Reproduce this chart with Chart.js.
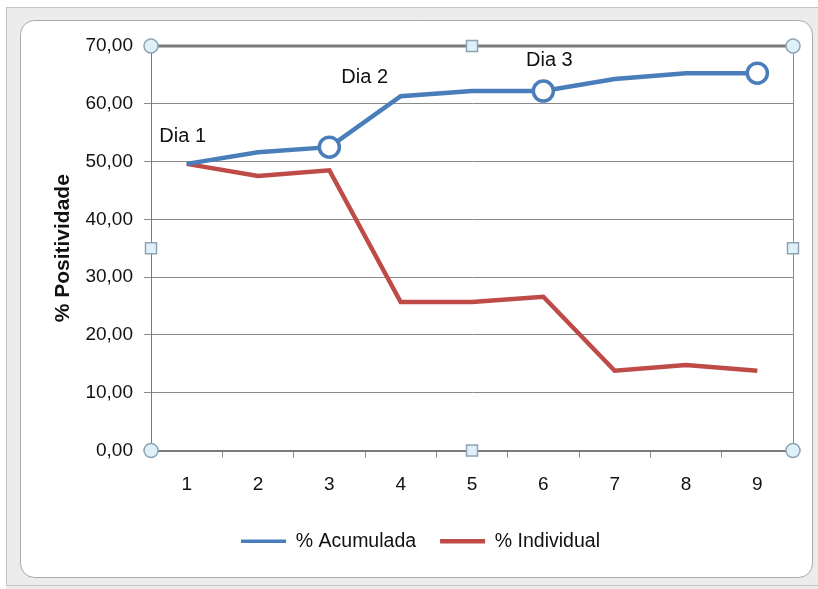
<!DOCTYPE html>
<html>
<head>
<meta charset="utf-8">
<script src="https://cdn.jsdelivr.net/npm/chart.js@4/dist/chart.umd.min.js"></script>
<style>
html,body{margin:0;padding:0;background:#fff;}
#wrap{position:absolute;left:0;top:0;width:818px;height:589px;}
</style>
</head>
<body>
<div id="wrap"><canvas id="c" width="818" height="589"></canvas></div>
<script>
const categories = ['1','2','3','4','5','6','7','8','9'];
const acumulada = [49.6, 51.6, 52.5, 61.3, 62.2, 62.2, 64.3, 65.3, 65.3];
const individual = [49.6, 47.5, 48.5, 25.7, 25.7, 26.6, 13.8, 14.8, 13.8];
const markerIndexes = [2, 5, 8];
const dayLabels = ['Dia 1', 'Dia 2', 'Dia 3'];
const yTicks = [0, 10, 20, 30, 40, 50, 60, 70];

const FONT = "'Liberation Sans', Arial, sans-serif";
const BLUE = '#4a7ebb';
const RED = '#be4b48';

const framePlugin = {
  id: 'frame',
  beforeDraw(chart) {
    const ctx = chart.ctx;
    ctx.save();
    ctx.fillStyle = '#ffffff';
    ctx.fillRect(0, 0, chart.width, chart.height);
    ctx.fillStyle = '#ececec';
    ctx.fillRect(6, 7, 812, 582);
    ctx.strokeStyle = '#c4c4c4';
    ctx.lineWidth = 1;
    ctx.strokeRect(6.5, 7.5, 830, 578);
    ctx.beginPath();
    ctx.roundRect(20.5, 20.5, 792, 557, 14);
    ctx.fillStyle = '#ffffff';
    ctx.fill();
    ctx.strokeStyle = '#a8a8a8';
    ctx.stroke();
    ctx.restore();
  },
  afterDraw(chart) {
    const ctx = chart.ctx;
    const a = chart.chartArea;
    ctx.save();
    ctx.strokeStyle = '#7a7a7a';
    ctx.lineWidth = 3;
    ctx.beginPath();
    ctx.moveTo(a.left, a.top); ctx.lineTo(a.right, a.top);
    ctx.stroke();
    ctx.lineWidth = 1;
    ctx.strokeStyle = '#8a8a8a';
    ctx.beginPath();
    ctx.moveTo(a.right + 0.5, a.top); ctx.lineTo(a.right + 0.5, a.bottom);
    ctx.stroke();
    const cx = (a.left + a.right) / 2, cy = (a.top + a.bottom) / 2;
    ctx.fillStyle = '#dff0f8';
    ctx.strokeStyle = '#8ea4b4';
    ctx.lineWidth = 1.5;
    [[a.left, a.top], [a.right, a.top], [a.left, a.bottom], [a.right, a.bottom]].forEach(([x, y]) => {
      ctx.beginPath(); ctx.arc(x, y, 7, 0, Math.PI * 2); ctx.fill(); ctx.stroke();
    });
    [[cx, a.top], [cx, a.bottom], [a.left, cy], [a.right, cy]].forEach(([x, y]) => {
      ctx.beginPath(); ctx.rect(x - 5.5, y - 5.5, 11, 11); ctx.fill(); ctx.stroke();
    });
    ctx.restore();
  }
};

const labelPlugin = {
  id: 'dayLabels',
  afterDatasetsDraw(chart, args, opts) {
    const ctx = chart.ctx;
    const meta = chart.getDatasetMeta(0);
    ctx.save();
    ctx.font = '20px ' + FONT;
    ctx.fillStyle = '#111';
    ctx.textAlign = 'center';
    ctx.textBaseline = 'middle';
    opts.anchors.forEach((an, i) => {
      const p = meta.data[an.index];
      ctx.fillText(dayLabels[i], p.x + an.dx, p.y + an.dy);
    });
    ctx.restore();
  }
};

new Chart(document.getElementById('c'), {
  type: 'line',
  data: {
    labels: categories,
    datasets: [
      {
        label: '% Acumulada',
        data: acumulada,
        borderColor: BLUE,
        backgroundColor: BLUE,
        borderWidth: 4.5,
        pointRadius: ctx => markerIndexes.includes(ctx.dataIndex) ? 10 : 0,
        pointBackgroundColor: '#ffffff',
        pointBorderColor: BLUE,
        pointBorderWidth: 3.5,
        tension: 0
      },
      {
        label: '% Individual',
        data: individual,
        borderColor: RED,
        backgroundColor: RED,
        borderWidth: 4.5,
        pointRadius: 0,
        tension: 0
      }
    ]
  },
  options: {
    responsive: false,
    animation: false,
    layout: { padding: { left: 48, right: 25, top: 46, bottom: 28 } },
    plugins: {
      legend: {
        position: 'bottom',
        labels: {
          usePointStyle: true,
          pointStyle: 'line',
          pointStyleWidth: 45,
          padding: 24,
          color: '#111',
          font: { family: FONT, size: 19.5 }
        }
      },
      tooltip: { enabled: false },
      dayLabels: {
        anchors: [
          { index: 0, dx: -4, dy: -27 },
          { index: 3, dx: -36, dy: -19 },
          { index: 5, dx: 6, dy: -31 }
        ]
      }
    },
    scales: {
      x: {
        offset: true,
        grid: { offset: true, drawOnChartArea: false, drawTicks: true, tickLength: 7, color: '#8a8a8a' },
        border: { display: true, color: '#7a7a7a', width: 2 },
        ticks: { color: '#111', font: { family: FONT, size: 19 }, padding: 16 },
        afterFit(scale) { scale.height = 57; }
      },
      y: {
        min: 0, max: 70,
        afterBuildTicks(scale) { scale.ticks = yTicks.map(v => ({ value: v })); },
        grid: { color: '#8a8a8a', lineWidth: 1, tickLength: 7 },
        border: { display: true, color: '#7a7a7a', width: 1 },
        ticks: {
          color: '#111',
          font: { family: FONT, size: 19 },
          padding: 11,
          callback: v => v.toFixed(2).replace('.', ',')
        },
        title: {
          display: true,
          text: '% Positividade',
          color: '#111',
          font: { family: FONT, size: 21, weight: 'bold' },
          padding: { top: 3, bottom: 0 }
        },
        afterFit(scale) { scale.width = 103; }
      }
    }
  },
  plugins: [framePlugin, labelPlugin]
});
</script>
</body>
</html>
